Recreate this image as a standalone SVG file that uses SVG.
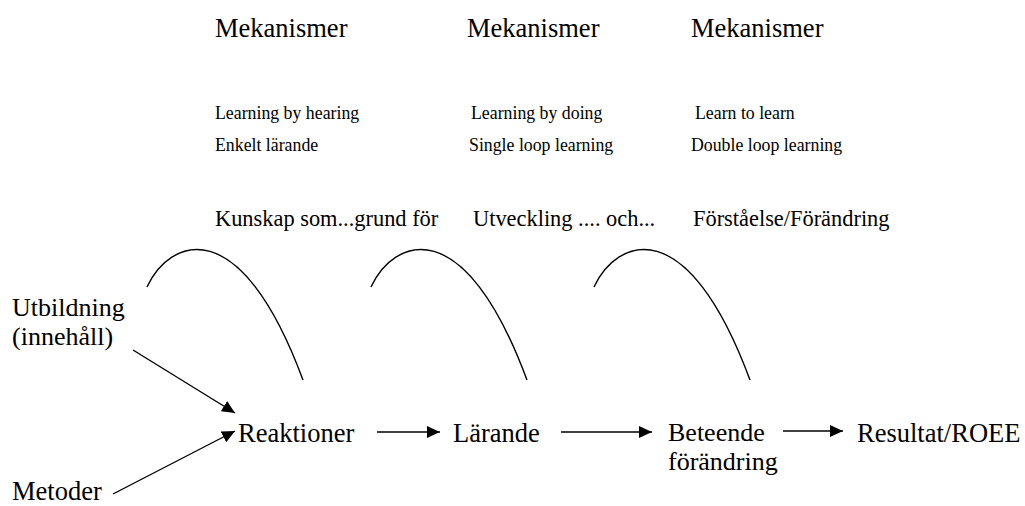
<svg xmlns="http://www.w3.org/2000/svg" width="1025" height="506" viewBox="0 0 1025 506">
<style>
text{font-family:"Liberation Serif","Times New Roman",serif;fill:#000}
.big{font-size:26.5px}
.lbl{font-size:26px}
.mid{font-size:22.4px}
.sm{font-size:17.8px}
.ln{stroke:#000;stroke-width:1.4;fill:none}
</style>
<defs>
<marker id="ah" markerUnits="userSpaceOnUse" markerWidth="14" markerHeight="12" refX="13" refY="6" orient="auto">
<path d="M0,0 L13,6 L0,12 Z" fill="#000"/>
</marker>
<path id="arc" d="M0,0 C23,-49 93,-77 156,93"/>
</defs>
<g id="headers">
<text class="big" x="215" y="37">Mekanismer</text>
<text class="big" x="467" y="37">Mekanismer</text>
<text class="big" x="691" y="37">Mekanismer</text>
</g>
<g id="mechanisms">
<text class="sm" x="215" y="119">Learning by hearing</text>
<text class="sm" x="215" y="151">Enkelt lärande</text>
<text class="sm" x="471" y="119">Learning by doing</text>
<text class="sm" x="469" y="151">Single loop learning</text>
<text class="sm" x="695" y="119">Learn to learn</text>
<text class="sm" x="691" y="151">Double loop learning</text>
</g>
<g id="outcomes">
<text class="mid" x="215" y="226">Kunskap som...grund för</text>
<text class="mid" x="473" y="226">Utveckling .... och...</text>
<text class="mid" x="693" y="226">Förståelse/Förändring</text>
</g>
<g id="node-utbildning"><text class="lbl" x="12" y="316">Utbildning</text><text class="lbl" x="12" y="345">(innehåll)</text></g>
<g id="node-metoder"><text class="big" x="12" y="500">Metoder</text></g>
<g id="node-reaktioner"><text class="big" x="238" y="442">Reaktioner</text></g>
<g id="node-larande"><text class="big" x="453" y="442">Lärande</text></g>
<g id="node-beteende"><text class="lbl" x="668" y="441">Beteende</text><text class="lbl" x="668" y="470">förändring</text></g>
<g id="node-resultat"><text class="big" x="857" y="442">Resultat/ROEE</text></g>
<g id="connectors">
<use href="#arc" class="ln" transform="translate(147,287)"/>
<use href="#arc" class="ln" transform="translate(371,287)"/>
<use href="#arc" class="ln" transform="translate(594,287)"/>
<line class="ln" x1="133" y1="350" x2="235" y2="413" marker-end="url(#ah)"/>
<line class="ln" x1="113" y1="494" x2="235" y2="431" marker-end="url(#ah)"/>
<line class="ln" x1="377" y1="432" x2="440" y2="432" marker-end="url(#ah)"/>
<line class="ln" x1="561" y1="432" x2="652" y2="432" marker-end="url(#ah)"/>
<line class="ln" x1="783" y1="431" x2="843" y2="431" marker-end="url(#ah)"/>
</g>
</svg>
